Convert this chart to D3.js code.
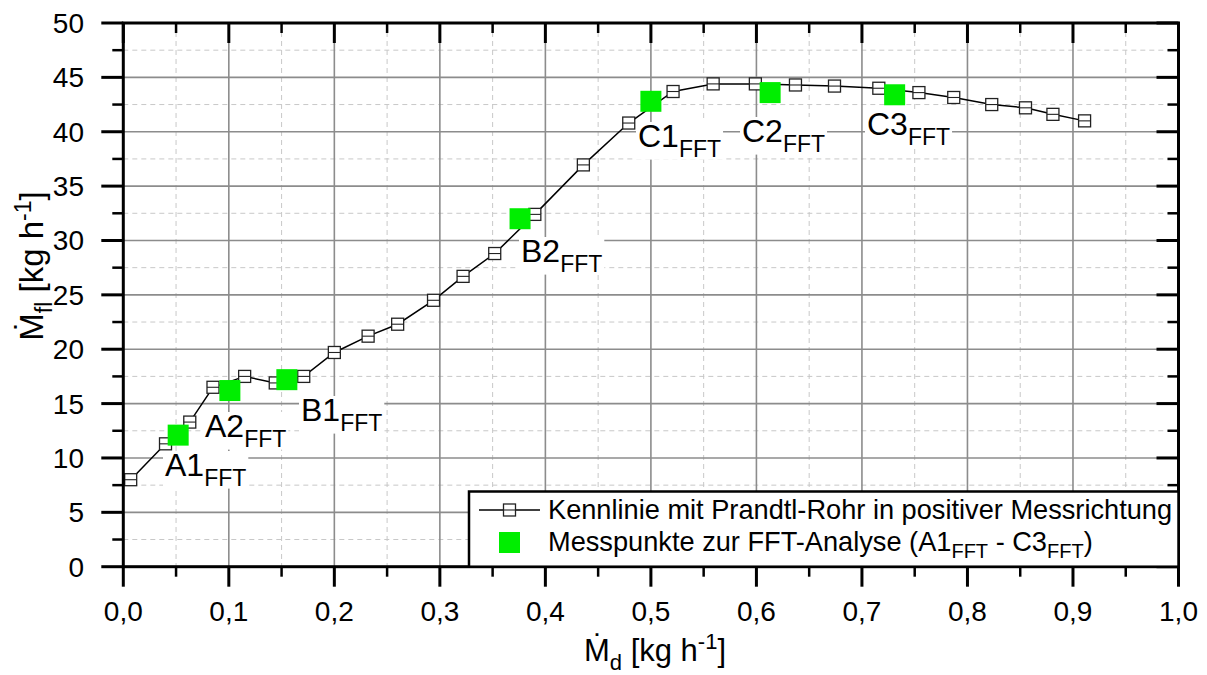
<html>
<head>
<script src="https://d3js.org/d3.v7.min.js"></script>
<style>
body { margin: 0; background: #fff; }
text { font-family: 'Liberation Sans', Arial, sans-serif; fill: #000; }
</style>
</head>
<body>
<div id="plot"></div>
<script>
// measured characteristic (open squares)
var mdValues = [0.007, 0.040, 0.063, 0.085, 0.115, 0.144, 0.171, 0.200, 0.232, 0.260,
  0.294, 0.322, 0.352, 0.390, 0.436, 0.479, 0.521, 0.559, 0.599, 0.637,
  0.674, 0.716, 0.754, 0.787, 0.823, 0.855, 0.881, 0.911];
var mflValues = [8.0, 11.3, 13.3, 16.5, 17.5, 16.9, 17.5, 19.7, 21.2, 22.3,
  24.5, 26.7, 28.8, 32.4, 36.95, 40.8, 43.7, 44.4, 44.4, 44.3,
  44.2, 44.0, 43.6, 43.15, 42.5, 42.2, 41.6, 41.0];

// FFT measuring points (green)
var fftNames = ["A1", "A2", "B1", "B2", "C1", "C2", "C3"];
var fftMd = [0.052, 0.101, 0.155, 0.376, 0.500, 0.613, 0.731];
var fftMfl = [12.1, 16.2, 17.2, 32.0, 42.8, 43.6, 43.4];

var xTicks = [0, 0.1, 0.2, 0.3, 0.4, 0.5, 0.6, 0.7, 0.8, 0.9, 1.0];
var yTicks = [0, 5, 10, 15, 20, 25, 30, 35, 40, 45, 50];

var legendLabels = ["Kennlinie mit Prandtl-Rohr in positiver Messrichtung",
  "Messpunkte zur FFT-Analyse (A1", " - C3", ")"];

var W = 1207, H = 675;
var pLeft = 123.3, pRight = 1178.5, pTop = 23, pBottom = 566.7;

var svg = d3.select("#plot").append("svg").attr("width", W).attr("height", H);

var x = d3.scaleLinear().domain([0, 1]).range([pLeft, pRight]);
var y = d3.scaleLinear().domain([0, 50]).range([pBottom, pTop]);

// grid - minor dashed, major solid
var minorX = d3.range(0.05, 1, 0.1);
var minorY = d3.range(2.5, 50, 5);
var grid = svg.append("g");
grid.selectAll(".mx").data(minorX).enter().append("line")
  .attr("x1", d => x(d)).attr("x2", d => x(d)).attr("y1", pTop).attr("y2", pBottom)
  .style("stroke", "#c8c8c8").style("stroke-width", 1).style("stroke-dasharray", "5,4");
grid.selectAll(".my").data(minorY).enter().append("line")
  .attr("y1", d => y(d)).attr("y2", d => y(d)).attr("x1", pLeft).attr("x2", pRight)
  .style("stroke", "#c8c8c8").style("stroke-width", 1).style("stroke-dasharray", "5,4");
grid.selectAll(".gx").data(xTicks.slice(1, -1)).enter().append("line")
  .attr("x1", d => x(d)).attr("x2", d => x(d)).attr("y1", pTop).attr("y2", pBottom)
  .style("stroke", "#8c8c8c").style("stroke-width", 1.6);
grid.selectAll(".gy").data(yTicks.slice(1, -1)).enter().append("line")
  .attr("y1", d => y(d)).attr("y2", d => y(d)).attr("x1", pLeft).attr("x2", pRight)
  .style("stroke", "#8c8c8c").style("stroke-width", 1.6);

// point labels with white knockout
function subLabel(g, main, sub, size, subSize) {
  var t = g.append("text").style("font-size", size + "px");
  t.append("tspan").text(main);
  t.append("tspan").attr("dy", size * 0.3).style("font-size", subSize + "px").text(sub);
  return t;
}
var labelPos = [[165, 476], [205, 437], [301, 421], [521, 262], [638, 147], [742, 142], [867, 135]];
var labels = svg.append("g");
fftNames.forEach(function (n, i) {
  var g = labels.append("g").attr("transform", "translate(" + labelPos[i][0] + "," + labelPos[i][1] + ")");
  var t = subLabel(g, n, "FFT", 32, 23);
  var bb = t.node().getBBox();
  g.insert("rect", "text").attr("x", bb.x - 2).attr("y", bb.y + 4).attr("width", bb.width + 4)
    .attr("height", bb.height - 6).style("fill", "#fff");
});

// data line
var pts = mdValues.map((d, i) => [d, mflValues[i]]);
svg.append("path")
  .attr("d", d3.line().x(d => x(d[0])).y(d => y(d[1]))(pts))
  .style("fill", "none").style("stroke", "#000").style("stroke-width", 1.5);

function openSquare(g, cx, cy, s) {
  g.append("rect").attr("x", cx - s / 2).attr("y", cy - s / 2).attr("width", s).attr("height", s)
    .style("fill", "#fff").style("stroke", "#222").style("stroke-width", 1.3);
  g.append("line").attr("x1", cx - s / 2).attr("x2", cx + s / 2).attr("y1", cy).attr("y2", cy)
    .style("stroke", "#222").style("stroke-width", 1.1);
}
var marks = svg.append("g");
pts.forEach(d => openSquare(marks, x(d[0]), y(d[1]), 12));

// green squares
svg.append("g").selectAll("rect").data(fftMd).enter().append("rect")
  .attr("x", (d, i) => x(d) - 10.5).attr("y", (d, i) => y(fftMfl[i]) - 10.5)
  .attr("width", 21).attr("height", 21).style("fill", "#00ee00");

// axes
var axes = svg.append("g");
function tickLines(vals, x1, y1, x2, y2, w) {
  axes.selectAll(null).data(vals).enter().append("line")
    .attr("x1", x1).attr("y1", y1).attr("x2", x2).attr("y2", y2)
    .style("stroke", "#000").style("stroke-width", w);
}
// bottom outward
tickLines(xTicks, d => x(d), pBottom, d => x(d), pBottom + 20, 3);
tickLines(minorX, d => x(d), pBottom, d => x(d), pBottom + 10, 2.5);
// top inward
tickLines(xTicks, d => x(d), pTop, d => x(d), pTop + 20, 3);
tickLines(minorX, d => x(d), pTop, d => x(d), pTop + 10, 2.5);
// left outward
tickLines(yTicks, pLeft - 22, d => y(d), pLeft, d => y(d), 3);
tickLines(minorY, pLeft - 11, d => y(d), pLeft, d => y(d), 2.5);
// right inward
tickLines(yTicks, pRight - 22, d => y(d), pRight, d => y(d), 3);
tickLines(minorY, pRight - 11, d => y(d), pRight, d => y(d), 2.5);

axes.append("rect").attr("x", pLeft).attr("y", pTop).attr("width", pRight - pLeft).attr("height", pBottom - pTop)
  .style("fill", "none").style("stroke", "#000").style("stroke-width", 3);

axes.selectAll(".xl").data(xTicks).enter().append("text")
  .attr("x", d => x(d)).attr("y", 621).attr("text-anchor", "middle")
  .style("font-size", "28px").text(d => d3.format(".1f")(d).replace(".", ","));
axes.selectAll(".yl").data(yTicks).enter().append("text")
  .attr("x", 84).attr("y", d => y(d) + 10).attr("text-anchor", "end")
  .style("font-size", "28px").text(d => d);

// axis titles
function axisTitle(g, sub, size) {
  var s2 = Math.round(size * 0.71);
  var t = g.append("text").attr("text-anchor", "middle").style("font-size", size + "px");
  t.append("tspan").text("\u1E40");
  t.append("tspan").attr("dy", 9).style("font-size", s2 + "px").text(sub);
  t.append("tspan").attr("dy", -9).text(" [kg h");
  t.append("tspan").attr("dy", -12).style("font-size", s2 + "px").text("-1");
  t.append("tspan").attr("dy", 12).text("]");
}
axisTitle(svg.append("g").attr("transform", "translate(655,661)"), "d", 31);
axisTitle(svg.append("g").attr("transform", "translate(43,266) rotate(-90)"), "fl", 33);

// legend
var lg = svg.append("g");
lg.append("rect").attr("x", 469).attr("y", 491.5).attr("width", pRight - 469).attr("height", pBottom - 491.5)
  .style("fill", "#fff").style("stroke", "#000").style("stroke-width", 2.5);
lg.append("line").attr("x1", 479).attr("x2", 540).attr("y1", 510).attr("y2", 510)
  .style("stroke", "#000").style("stroke-width", 1.5);
openSquare(lg, 509.5, 510, 12);
lg.append("text").attr("x", 548).attr("y", 519).style("font-size", "27.2px").text(legendLabels[0]);
lg.append("rect").attr("x", 499).attr("y", 532).attr("width", 21).attr("height", 21).style("fill", "#00ee00");
var t2 = lg.append("text").attr("x", 548).attr("y", 551).style("font-size", "27.2px");
t2.append("tspan").text(legendLabels[1]);
t2.append("tspan").attr("dy", 7).style("font-size", "20px").text("FFT");
t2.append("tspan").attr("dy", -7).text(legendLabels[2]);
t2.append("tspan").attr("dy", 7).style("font-size", "20px").text("FFT");
t2.append("tspan").attr("dy", -7).text(legendLabels[3]);
</script>
</body>
</html>
